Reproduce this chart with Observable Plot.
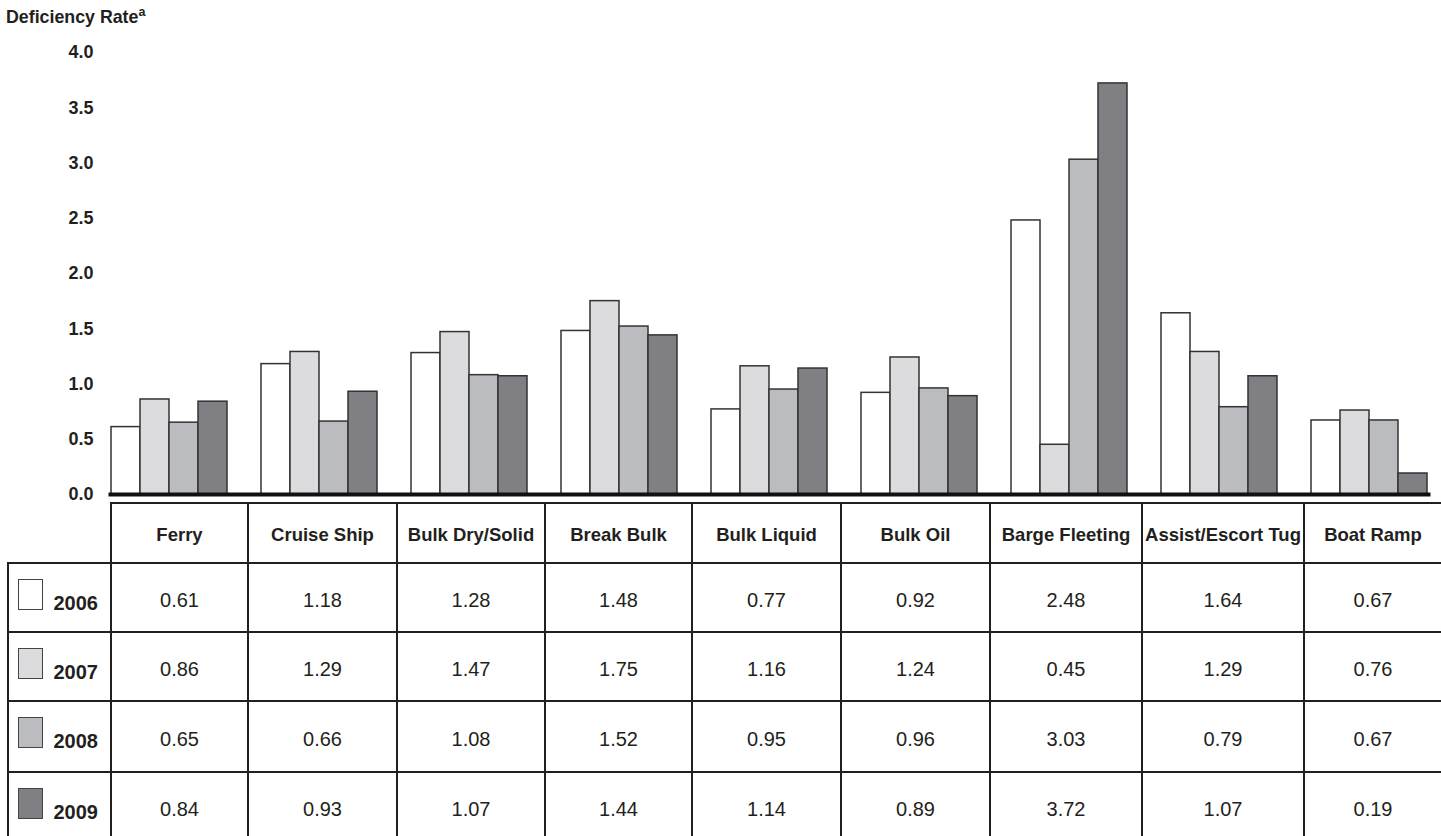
<!DOCTYPE html>
<html><head><meta charset="utf-8">
<script src="https://cdn.jsdelivr.net/npm/d3@7"></script>
<script src="https://cdn.jsdelivr.net/npm/@observablehq/plot@0.6"></script>
<style>
body{margin:0;background:#fff;font-family:"Liberation Sans",Arial,sans-serif;color:#231f20;}
#wrap{position:relative;width:1441px;height:836px;overflow:hidden;background:#fff;}
#title{position:absolute;left:6px;top:9px;font-weight:bold;font-size:17.8px;line-height:17px;white-space:nowrap;}
#title sup{font-size:12.5px;line-height:0;vertical-align:7px;}
#chart{position:absolute;left:0;top:30px;}
.cell{position:absolute;box-sizing:border-box;border-left:2.5px solid #231f20;border-top:2.5px solid #231f20;}
.hdr{display:flex;align-items:center;justify-content:center;font-weight:bold;font-size:18.5px;padding-top:3px;white-space:nowrap;}
.num{display:flex;align-items:center;justify-content:center;font-size:20px;padding-top:5px;}
.sw{position:absolute;left:8.5px;top:15px;width:25px;height:31px;box-sizing:border-box;border:1.5px solid #444;}
.yr{position:absolute;left:44.5px;top:29px;font-weight:bold;font-size:20px;line-height:20px;}
</style></head><body>
<div id="wrap"><div id="title">Deficiency Rate<sup>a</sup></div><div id="chart"></div><div id="table"></div></div>
<script>
const categories = ["Ferry","Cruise Ship","Bulk Dry/Solid","Break Bulk","Bulk Liquid","Bulk Oil","Barge Fleeting","Assist/Escort Tug","Boat Ramp"];
const years = ["2006","2007","2008","2009"];
const rates2006 = [0.61,1.18,1.28,1.48,0.77,0.92,2.48,1.64,0.67];
const rates2007 = [0.86,1.29,1.47,1.75,1.16,1.24,0.45,1.29,0.76];
const rates2008 = [0.65,0.66,1.08,1.52,0.95,0.96,3.03,0.79,0.67];
const rates2009 = [0.84,0.93,1.07,1.44,1.14,0.89,3.72,1.07,0.19];
const yTicks = [0,0.5,1,1.5,2,2.5,3,3.5,4];
const yearColors = ["#ffffff","#dcdcde","#bbbcc0","#808084"];

const series = [rates2006, rates2007, rates2008, rates2009];
const data = [];
years.forEach((yr, i) => categories.forEach((c, j) => data.push({category: c, year: yr, value: series[i][j]})));

const plot = Plot.plot({
  width: 1441, height: 482,
  marginLeft: 110, marginRight: 3, marginTop: 22, marginBottom: 18,
  style: {fontFamily: "Liberation Sans, Arial, sans-serif", fontSize: "18px", fontWeight: "bold", color: "#231f20", background: "transparent"},
  fx: {domain: categories, paddingInner: 0.2133, paddingOuter: 0.0333, align: 0, axis: null, label: null},
  x: {domain: years, padding: 0, axis: null},
  y: {domain: [0, 4], label: null},
  color: {domain: years, range: yearColors},
  marks: [
    Plot.axisY(yTicks, {tickSize: 0, tickPadding: 17, tickFormat: d => d.toFixed(1), label: null, fill: "#231f20"}),
    Plot.barY(data, {fx: "category", x: "year", y: "value", fill: "year", stroke: "#333", strokeWidth: 1.5}),
    Plot.frame({anchor: "bottom", facet: "super", stroke: "#111", strokeWidth: 4})
  ]
});
document.getElementById("chart").appendChild(plot);

// data table
const colEdges = [7, 110, 247, 396, 544, 691, 840, 989, 1141, 1303, 1441];
const rowEdges = [502, 562, 631, 700, 771, 841];
const table = document.getElementById("table");
function cell(c, r, cls) {
  const d = document.createElement("div");
  d.className = "cell " + (cls || "");
  d.style.left = colEdges[c] + "px";
  d.style.top = rowEdges[r] + "px";
  d.style.width = (colEdges[c + 1] - colEdges[c]) + "px";
  d.style.height = (rowEdges[r + 1] - rowEdges[r]) + "px";
  table.appendChild(d);
  return d;
}
categories.forEach((c, j) => { cell(j + 1, 0, "hdr").textContent = c; });
years.forEach((yr, i) => {
  const lc = cell(0, i + 1, "");
  const sw = document.createElement("div"); sw.className = "sw"; sw.style.background = yearColors[i]; lc.appendChild(sw);
  const t = document.createElement("span"); t.className = "yr"; t.textContent = yr; lc.appendChild(t);
  series[i].forEach((v, j) => { cell(j + 1, i + 1, "num").textContent = v.toFixed(2); });
});
</script>
</body></html>
